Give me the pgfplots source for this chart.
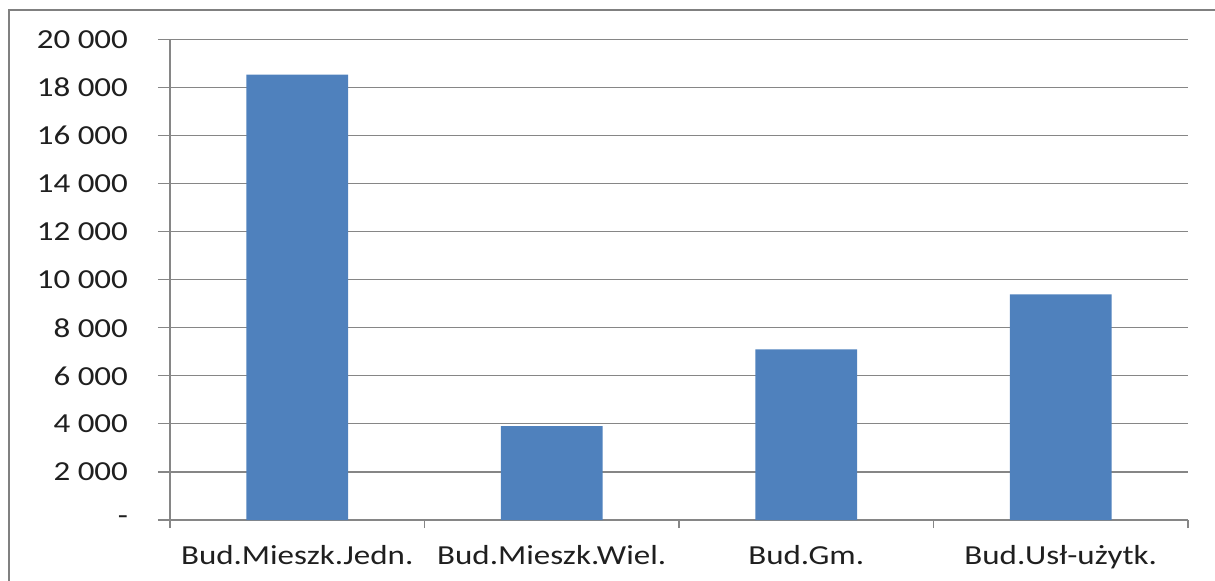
\documentclass[border=0pt]{standalone}
\usepackage{pgfplots}
\pgfplotsset{compat=1.18}
\usepackage{fontspec}
\setmainfont{Carlito}[FakeStretch=1.2]

\definecolor{barblue}{HTML}{4F81BD}
\definecolor{gridgray}{HTML}{868686}
\definecolor{framegray}{HTML}{808080}

\begin{document}
\begin{tikzpicture}
\useasboundingbox (0,0) rectangle (607.5pt,-290pt);
% outer chart frame
\begin{scope}
  \clip (0,0) rectangle (607.5pt,-290pt);
  \draw[framegray, line width=1.25pt] (4.6pt,-4.9pt) rectangle (640pt,-320pt);
\end{scope}
\begin{axis}[
  at={(85pt,-260pt)}, anchor=south west,
  scale only axis,
  width=509pt, height=240.3pt,
  xmin=-0.5, xmax=3.5,
  ymin=0, ymax=20000,
  scaled y ticks=false,
  axis lines=left,
  axis line style={gridgray, line width=0.6pt, -},
  tick align=outside,
  ytick={0,2000,...,20000},
  yticklabels={{-},{2 000},{4 000},{6 000},{8 000},{10 000},{12 000},{14 000},{16 000},{18 000},{20 000}},
  ymajorgrids,
  grid style={gridgray, line width=0.6pt},
  y tick style={gridgray, line width=0.6pt},
  major tick length=6pt,
  xtick={0,1,2,3},
  xticklabels={Bud.Mieszk.Jedn., Bud.Mieszk.Wiel., Bud.Gm., Bud.Usł-użytk.},
  x tick style={draw=none},
  minor xtick={-0.5,0.5,1.5,2.5,3.5},
  minor x tick style={gridgray, line width=0.6pt, draw=gridgray},
  minor tick length=4pt,
  tick label style={font=\fontsize{13.75}{16}\selectfont, text=black!88},
  yticklabel style={anchor=east, xshift=-11.5pt},
  xticklabel style={anchor=north, yshift=-3pt},
  clip=false,
]
\addplot[ybar, bar width=50.9pt, fill=barblue, draw=none]
  coordinates {(0,18530) (1,3910) (2,7100) (3,9390)};
\end{axis}
\end{tikzpicture}
\end{document}
